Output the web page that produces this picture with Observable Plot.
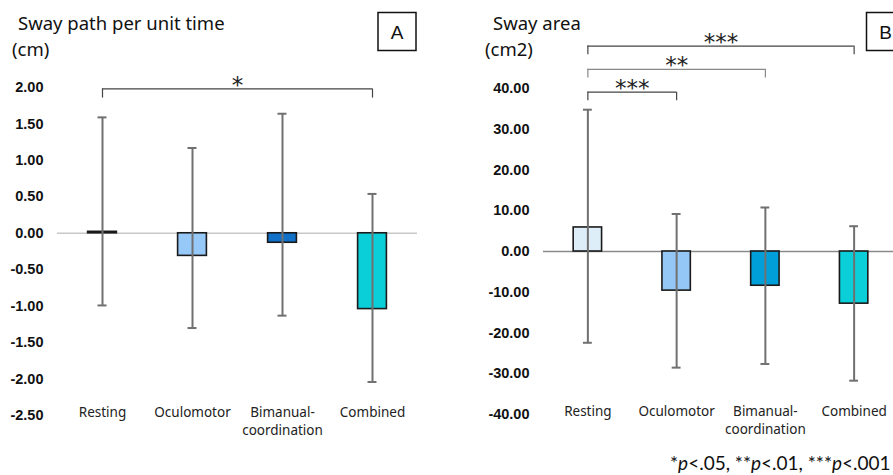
<!DOCTYPE html>
<html>
<head>
<meta charset="utf-8">
<script src="https://cdn.jsdelivr.net/npm/d3@7"></script>
<script src="https://cdn.jsdelivr.net/npm/@observablehq/plot@0.6"></script>
<style>
  html, body { margin: 0; padding: 0; background: #fff; overflow: hidden; }
  #wrap { position: relative; width: 893px; height: 475px; overflow: hidden; }
  #wrap > svg, #wrap > div { position: absolute; top: 0; }
</style>
</head>
<body>
<div id="wrap"></div>
<script>
// ---- data ----
const categories = ["Resting", "Oculomotor", "Bimanual-\ncoordination", "Combined"];

const pathMean = [0.02, -0.31, -0.13, -1.04];
const pathLow  = [-0.99, -1.30, -1.13, -2.04];
const pathHigh = [1.59, 1.17, 1.64, 0.54];
const pathTicks = [2.0, 1.5, 1.0, 0.5, 0.0, -0.5, -1.0, -1.5, -2.0, -2.5];
const pathColors = ["#DDEEF8", "#96C8F8", "#1170C8", "#0BCFD8"];
const pathSig = [{from: 0, to: 3, label: "*"}];

const areaMean = [5.9, -9.6, -8.4, -12.8];
const areaLow  = [-22.4, -28.5, -27.6, -31.7];
const areaHigh = [34.8, 9.2, 10.8, 6.2];
const areaTicks = [40, 30, 20, 10, 0, -10, -20, -30, -40];
const areaColors = ["#DDEEF8", "#94C6F6", "#009FDA", "#0BCFD8"];
const areaSig = [
  {from: 0, to: 3, label: "***"},
  {from: 0, to: 2, label: "**"},
  {from: 0, to: 1, label: "***"}
];

// ---- drawing ----
const fmt = v => (Math.abs(v) < 1e-9 ? 0 : v).toFixed(2);

function panel({mean, low, high, ticks, colors, sig, levels, tickDrop, bracketColors,
                yDomain, zeroColor, width, marginLeft, marginRight, marginTop, marginBottom}) {
  const rows = mean.map((m, i) => ({i, m, lo: low[i], hi: high[i], c: colors[i]}));
  const half = 0.16, cap = 0.05;
  const br = sig.map((s, k) => ({...s, y: levels[k], yd: levels[k] - tickDrop, col: bracketColors[k]}));
  return Plot.plot({
    width, height: 475, marginLeft, marginRight, marginTop, marginBottom,
    style: {fontFamily: "'Liberation Sans', Arial, sans-serif", background: "transparent", overflow: "visible"},
    x: {domain: [-0.5, 3.5], axis: null},
    y: {domain: yDomain, axis: null},
    marks: [
      Plot.ruleY([0], {stroke: zeroColor, strokeWidth: 1.5}),
      Plot.rectY(rows, {x1: d => d.i - half, x2: d => d.i + half, y1: 0, y2: "m",
                        fill: "c", stroke: "#1a1a1a", strokeWidth: 1.6}),
      Plot.ruleX(rows, {x: "i", y1: "lo", y2: "hi", stroke: "#707070", strokeWidth: 2}),
      Plot.ruleY(rows, {y: "lo", x1: d => d.i - cap, x2: d => d.i + cap, stroke: "#707070", strokeWidth: 2}),
      Plot.ruleY(rows, {y: "hi", x1: d => d.i - cap, x2: d => d.i + cap, stroke: "#707070", strokeWidth: 2}),
      // significance brackets
      Plot.ruleY(br, {y: "y", x1: "from", x2: "to", stroke: "col", strokeWidth: 1.2}),
      Plot.ruleX(br, {x: "from", y1: "y", y2: "yd", stroke: "col", strokeWidth: 1.2}),
      Plot.ruleX(br, {x: "to", y1: "y", y2: "yd", stroke: "col", strokeWidth: 1.2}),
      Plot.text(br, {x: d => (d.from + d.to) / 2, y: "y", text: "label", lineAnchor: "bottom", dy: 4,
                     fontFamily: "'DejaVu Sans', sans-serif", fontSize: 23, fill: "#222",
                     letterSpacing: 1}),
      Plot.axisY({ticks, tickFormat: fmt, tickSize: 0, tickPadding: 14, fontSize: 14.5,
                  fontWeight: "bold", fill: "#111"}),
      Plot.axisX({ticks: [0, 1, 2, 3], tickFormat: i => categories[i], tickSize: 0, tickPadding: 0,
                  dy: -11, lineAnchor: "top", lineHeight: 1.3, fontSize: 13.5,
                  fontFamily: "'Noto Sans', sans-serif", fill: "#222"})
    ]
  });
}

const wrap = document.getElementById("wrap");

const A = panel({
  mean: pathMean, low: pathLow, high: pathHigh, ticks: pathTicks, colors: pathColors,
  sig: pathSig, levels: [1.98], tickDrop: 0.125, bracketColors: ["#444"],
  yDomain: [-2.5, 2.0], zeroColor: "#c8c8c8",
  width: 440, marginLeft: 57, marginRight: 23, marginTop: 87, marginBottom: 60
});
A.style.left = "0px";
wrap.appendChild(A);

const B = panel({
  mean: areaMean, low: areaLow, high: areaHigh, ticks: areaTicks, colors: areaColors,
  sig: areaSig, levels: [50.4, 44.7, 39.1], tickDrop: 2.1, bracketColors: ["#444", "#888", "#444"],
  yDomain: [-40, 40], zeroColor: "#8a8a8a",
  width: 470, marginLeft: 103, marginRight: 12, marginTop: 88, marginBottom: 61
});
B.style.left = "440px";
wrap.appendChild(B);

// ---- titles, panel letters, footnote ----
const ov = d3.select(wrap).append("svg")
  .attr("width", 893).attr("height", 475)
  .style("left", "0px").style("pointer-events", "none");

const titleFont = "'Noto Sans', sans-serif";
const texts = [
  {x: 18, y: 30, t: "Sway path per unit time"},
  {x: 12, y: 56, t: "(cm)"},
  {x: 493, y: 30, t: "Sway area"},
  {x: 485, y: 56, t: "(cm2)"}
];
ov.selectAll("text.title").data(texts).join("text")
  .attr("class", "title").attr("x", d => d.x).attr("y", d => d.y)
  .attr("font-family", titleFont).attr("font-size", 18.5).attr("fill", "#111")
  .text(d => d.t);

const boxes = [{x: 378, t: "A"}, {x: 866.5, t: "B"}];
ov.selectAll("rect.box").data(boxes).join("rect")
  .attr("class", "box").attr("x", d => d.x).attr("y", 12.5).attr("width", 38).attr("height", 38)
  .attr("fill", "#fff").attr("stroke", "#111").attr("stroke-width", 1.5);
ov.selectAll("text.box").data(boxes).join("text")
  .attr("class", "box").attr("x", d => d.x + 19).attr("y", 38.5).attr("text-anchor", "middle")
  .attr("font-family", "'Liberation Sans', Arial, sans-serif").attr("font-size", 19).attr("fill", "#111")
  .text(d => d.t);

const foot = ov.append("text").attr("x", 670).attr("y", 470)
  .attr("font-family", "Lato, sans-serif").attr("font-size", 19).attr("fill", "#111");
[["*", false], ["p", true], ["<.05, **", false], ["p", true], ["<.01, ***", false], ["p", true], ["<.001", false]]
  .forEach(([s, it]) => foot.append("tspan").attr("font-style", it ? "italic" : "normal").text(s));
</script>
</body>
</html>
